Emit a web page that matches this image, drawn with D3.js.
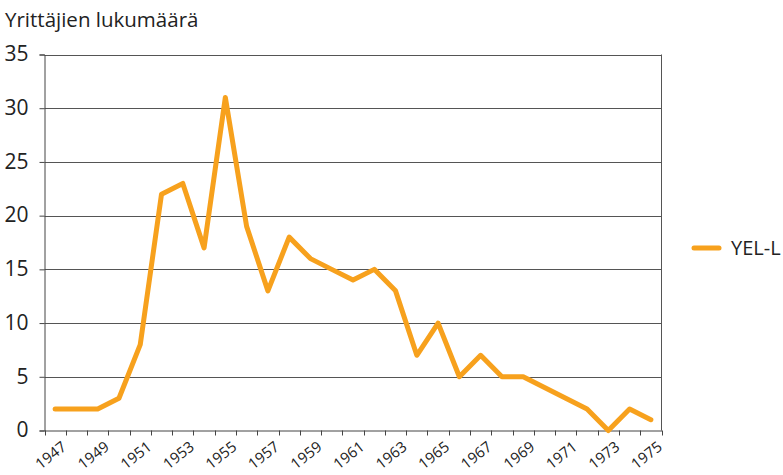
<!DOCTYPE html>
<html><head><meta charset="utf-8">
<script src="https://cdn.jsdelivr.net/npm/d3@7"></script>
<style>body{margin:0;background:#fff}text{font-family:"Open Sans",sans-serif;fill:#222}</style>
</head><body><svg id="c" width="783" height="475"></svg>
<script>
const years = ["1947","1948","1949","1950","1951","1952","1953","1954","1955","1956","1957","1958","1959","1960","1961","1962","1963","1964","1965","1966","1967","1968","1969","1970","1971","1972","1973","1974","1975"];
const yelL = [2,2,2,3,8,22,23,17,31,19,13,18,16,15,14,15,13,7,10,5,7,5,5,4,3,2,0,2,1];
const yTicks = [0,5,10,15,20,25,30,35];
const xLabels = ["1947","1949","1951","1953","1955","1957","1959","1961","1963","1965","1967","1969","1971","1973","1975"];
const seriesName = "YEL-L";
const yTitle = "Yrittäjien lukumäärä";

const svg = d3.select("#c");
const L=44.5, R=661.5, T=54.5, B=430.5;
const x = d3.scaleBand().domain(years).range([L,R]);
const y = d3.scaleLinear().domain([0,35]).range([B,T]);
const col = "#F7A11D";

// gridlines
svg.append("g").selectAll("line").data(yTicks.filter(d=>d>0)).join("line")
  .attr("x1",L).attr("x2",R).attr("y1",d=>Math.round(y(d))+0.5).attr("y2",d=>Math.round(y(d))+0.5)
  .attr("stroke","#555").attr("stroke-width",1);
// right border
svg.append("line").attr("x1",R).attr("x2",R).attr("y1",T).attr("y2",B).attr("stroke","#555");

// y axis
const ya = svg.append("g").attr("transform",`translate(${L},0)`)
  .call(d3.axisLeft(y).tickValues(yTicks).tickSize(5).tickPadding(11));
ya.select(".domain").attr("stroke","#444");
ya.selectAll(".tick line").attr("stroke","#444");
ya.selectAll("text").style("font-size","21px").attr("fill","#222").attr("dy","0.3em");

// x axis
const xa = svg.append("g").attr("transform",`translate(0,${B})`)
  .call(d3.axisBottom(x).tickSize(0).tickFormat(""));
xa.select(".domain").attr("stroke","#444");
svg.append("g").selectAll("line").data(years.concat(["end"])).join("line")
  .attr("x1",(d,i)=>Math.round(L+i*x.step())+0.5).attr("x2",(d,i)=>Math.round(L+i*x.step())+0.5)
  .attr("y1",B).attr("y2",B+5).attr("stroke","#444");
svg.append("g").selectAll("text").data(xLabels).join("text")
  .attr("transform",d=>`translate(${x(d)+x.bandwidth()/2+6},${B+10}) rotate(-38)`)
  .attr("text-anchor","end").attr("dy","0.7em").style("font-size","15px").text(d=>d);

// line
const line = d3.line().x((d,i)=>x(years[i])+x.bandwidth()/2).y(d=>y(d));
svg.append("path").datum(yelL).attr("d",line).attr("fill","none")
  .attr("stroke",col).attr("stroke-width",5).attr("stroke-linejoin","round").attr("stroke-linecap","round");

// title
svg.append("text").attr("x",5).attr("y",27).style("font-size","20.5px").text(yTitle);

// legend
svg.append("line").attr("x1",694).attr("x2",719).attr("y1",248).attr("y2",248)
  .attr("stroke",col).attr("stroke-width",5).attr("stroke-linecap","round");
svg.append("text").attr("x",731).attr("y",255).style("font-size","20px").text(seriesName);
</script></body></html>
